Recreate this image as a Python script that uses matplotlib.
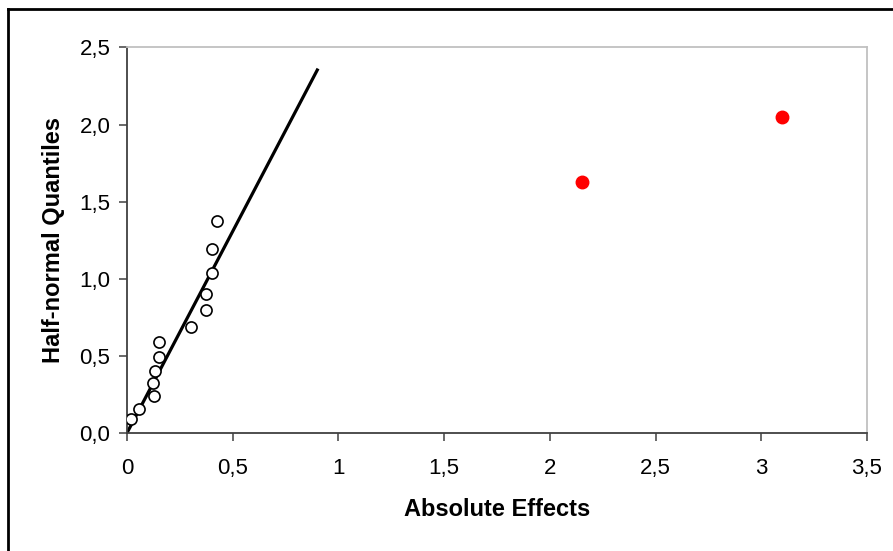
import numpy as np
import matplotlib
matplotlib.use("Agg")
import matplotlib.pyplot as plt
from matplotlib.ticker import FuncFormatter, MultipleLocator
from matplotlib.lines import Line2D

plt.rcParams['font.family'] = ['Liberation Sans', 'DejaVu Sans']

# small effects (open circles)
abs_eff = [0.019, 0.057, 0.128, 0.124, 0.132, 0.153, 0.153, 0.301, 0.374, 0.374, 0.40, 0.40, 0.424]
hn_quant = [0.088, 0.157, 0.24, 0.326, 0.40, 0.493, 0.59, 0.687, 0.795, 0.90, 1.035, 1.19, 1.377]

# significant effects (red)
sig_eff = [2.152, 3.10]
sig_quant = [1.628, 2.05]

# reference line
line_x = [0.0, 0.90]
line_y = [0.0, 2.354]

fig = plt.figure(figsize=(8.93, 5.51), dpi=100)
ax = fig.add_axes([0.1422, 0.2142, 0.8287, 0.6996])

ax.plot(line_x, line_y, color='black', lw=2.3, zorder=2)
ax.plot(abs_eff, hn_quant, 'o', mfc='white', mec='black', ms=8, mew=1.2, zorder=3)
ax.plot(sig_eff, sig_quant, 'o', mfc='red', mec='red', ms=9, zorder=3)

ax.set_xlim(0, 3.5)
ax.set_ylim(0, 2.5)
ax.xaxis.set_major_locator(MultipleLocator(0.5))
ax.yaxis.set_major_locator(MultipleLocator(0.5))
ax.xaxis.set_major_formatter(FuncFormatter(lambda v, p: ('%g' % v).replace('.', ',')))
ax.yaxis.set_major_formatter(FuncFormatter(lambda v, p: ('%.1f' % v).replace('.', ',')))

for s in ['left', 'bottom']:
    ax.spines[s].set_color('#404040')
    ax.spines[s].set_linewidth(1.3)
for s in ['top', 'right']:
    ax.spines[s].set_color('#c0c0c0')
    ax.spines[s].set_linewidth(1.3)

ax.tick_params(direction='out', length=6, width=1.1, color='#404040', labelsize=16, pad=6)
ax.tick_params(axis='x', pad=12)

ax.set_xlabel('Absolute Effects', fontsize=17, fontweight='bold', labelpad=14)
ax.set_ylabel('Half-normal Quantiles', fontsize=17, fontweight='bold', labelpad=10)

# outer frame (cropped on the right and bottom)
fig.add_artist(Line2D([0.009, 0.009], [0.0, 0.984], color='black', lw=2, transform=fig.transFigure))
fig.add_artist(Line2D([0.009, 1.0], [0.984, 0.984], color='black', lw=2, transform=fig.transFigure))

fig.savefig('out.png', dpi=100)
